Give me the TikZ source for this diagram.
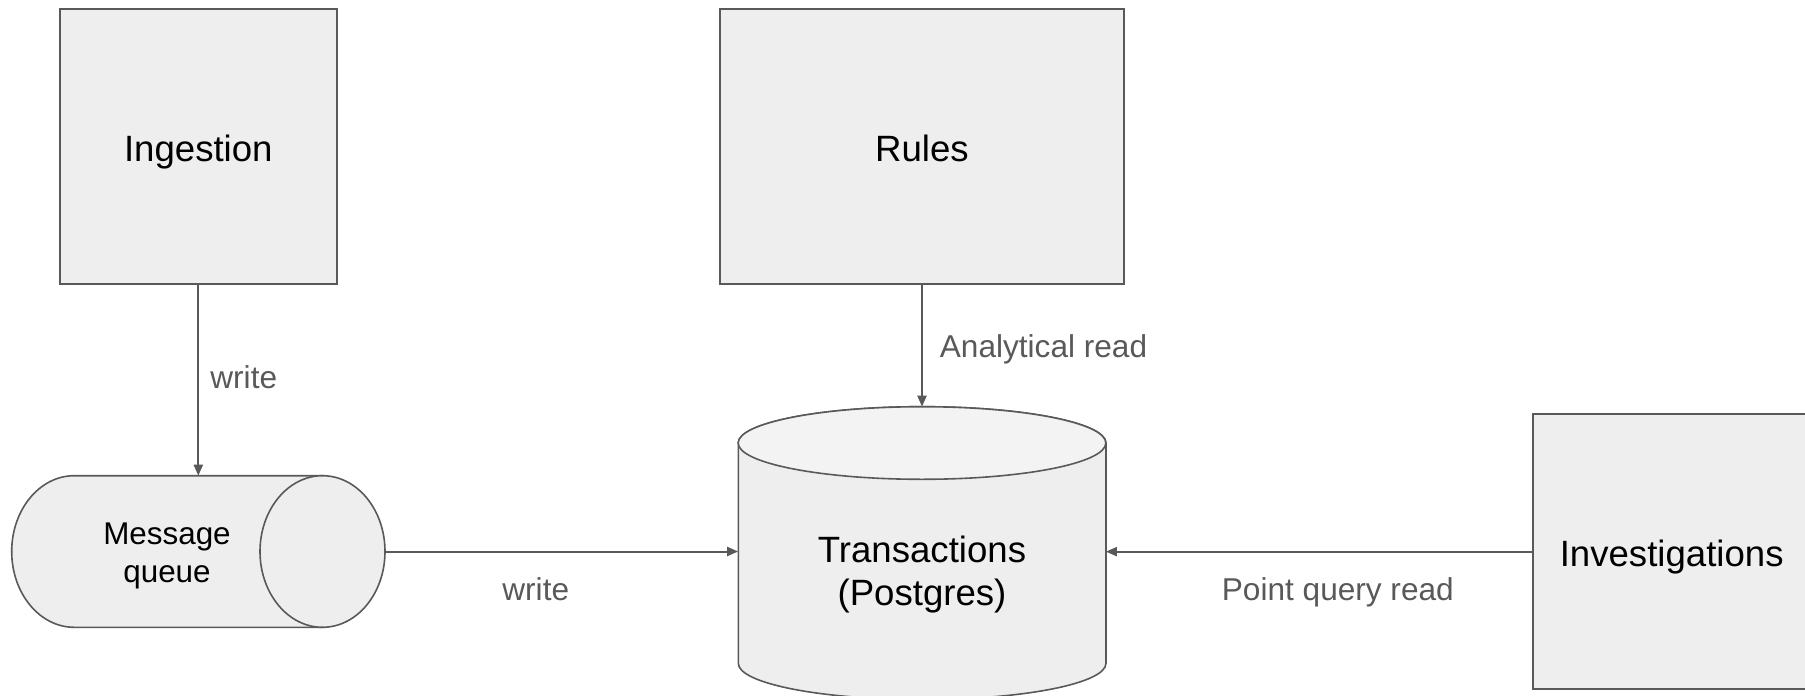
\documentclass[tikz,border=0pt]{standalone}
\usepackage{fontspec}
\setmainfont{Liberation Sans}
\usetikzlibrary{arrows.meta}
\definecolor{boxfill}{HTML}{EEEEEE}
\definecolor{topfill}{HTML}{F3F3F3}
\definecolor{edge}{HTML}{595959}

\begin{document}
\begin{tikzpicture}[x=0.5pt,y=-0.5pt,
  block/.style={draw=edge, line width=1pt, fill=boxfill, rectangle, inner sep=0pt,
    font=\fontsize{18.3}{21}\selectfont, text height=15pt, text depth=0pt},
  frame/.style={rectangle, draw=none, inner sep=0pt, outer sep=0pt},
  conn/.style={draw=edge, line width=1pt, -{Triangle[length=5.5pt,width=4.5pt]}},
  lbl/.style={text=edge, font=\fontsize{15.8}{18}\selectfont, inner sep=0pt, anchor=base west},
  shell/.style={draw=edge, line width=0.8pt, fill=boxfill}]

\useasboundingbox (0,0) rectangle (1805,696);
\clip (0,0) rectangle (1805,696);

% services
\node[block, minimum width=138.5pt, minimum height=137.5pt] (ing) at (198.3,146.5) {Ingestion};
\node[block, minimum width=202pt, minimum height=137.5pt] (rules) at (922,146.5) {Rules};
\node[block, minimum width=139pt, minimum height=137.65pt] (inv) at (1671.7,551.65) {Investigations};

% message queue: horizontal cylinder
\node[frame, minimum width=186.65pt, minimum height=75.8pt] (mq) at (198.3,551.5) {};
\path[shell] (322.5,475.7) -- (74.2,475.7)
  arc[start angle=90, end angle=270, x radius=31.25pt, y radius=37.9pt]
  -- (322.5,627.3) -- cycle;
\draw[shell] (322.5,551.5) ellipse[x radius=31.25pt, y radius=37.9pt];
\node[inner sep=0pt, align=center, font=\fontsize{15.7}{19.15}\selectfont] (mqtext) at (167,555.7) {Message\\queue};

% database: vertical cylinder
\node[frame, minimum width=183.85pt, minimum height=145.8pt] (db) at (922,552.5) {};
\path[shell] (738.3,443) -- (738.3,663.3)
  arc[start angle=180, end angle=360, x radius=91.925pt, y radius=18.15pt]
  -- (1106,443)
  arc[start angle=0, end angle=180, x radius=91.925pt, y radius=18.15pt] -- cycle;
\draw[shell, fill=topfill] (922,443) ellipse[x radius=91.925pt, y radius=18.15pt];
\node[inner sep=0pt, align=center, font=\fontsize{18.3}{21.35}\selectfont] (dbtext) at (922,574.2) {Transactions\\(Postgres)};

% data flows
\draw[conn] (ing.south) -- (mq.north);
\draw[conn] (rules.south) -- (db.north);
\draw[conn] (mq.east) -- (mq.east -| db.west);
\draw[conn] (inv.west) -- (inv.west -| db.east);

% flow labels
\node[lbl] (w1) at (210,388.3) {write};
\node[lbl] (w2) at (502,600) {write};
\node[lbl] (ar) at (939.5,357.3) {Analytical read};
\node[lbl] (pq) at (1221.5,600.7) {Point query read};
\end{tikzpicture}
\end{document}
